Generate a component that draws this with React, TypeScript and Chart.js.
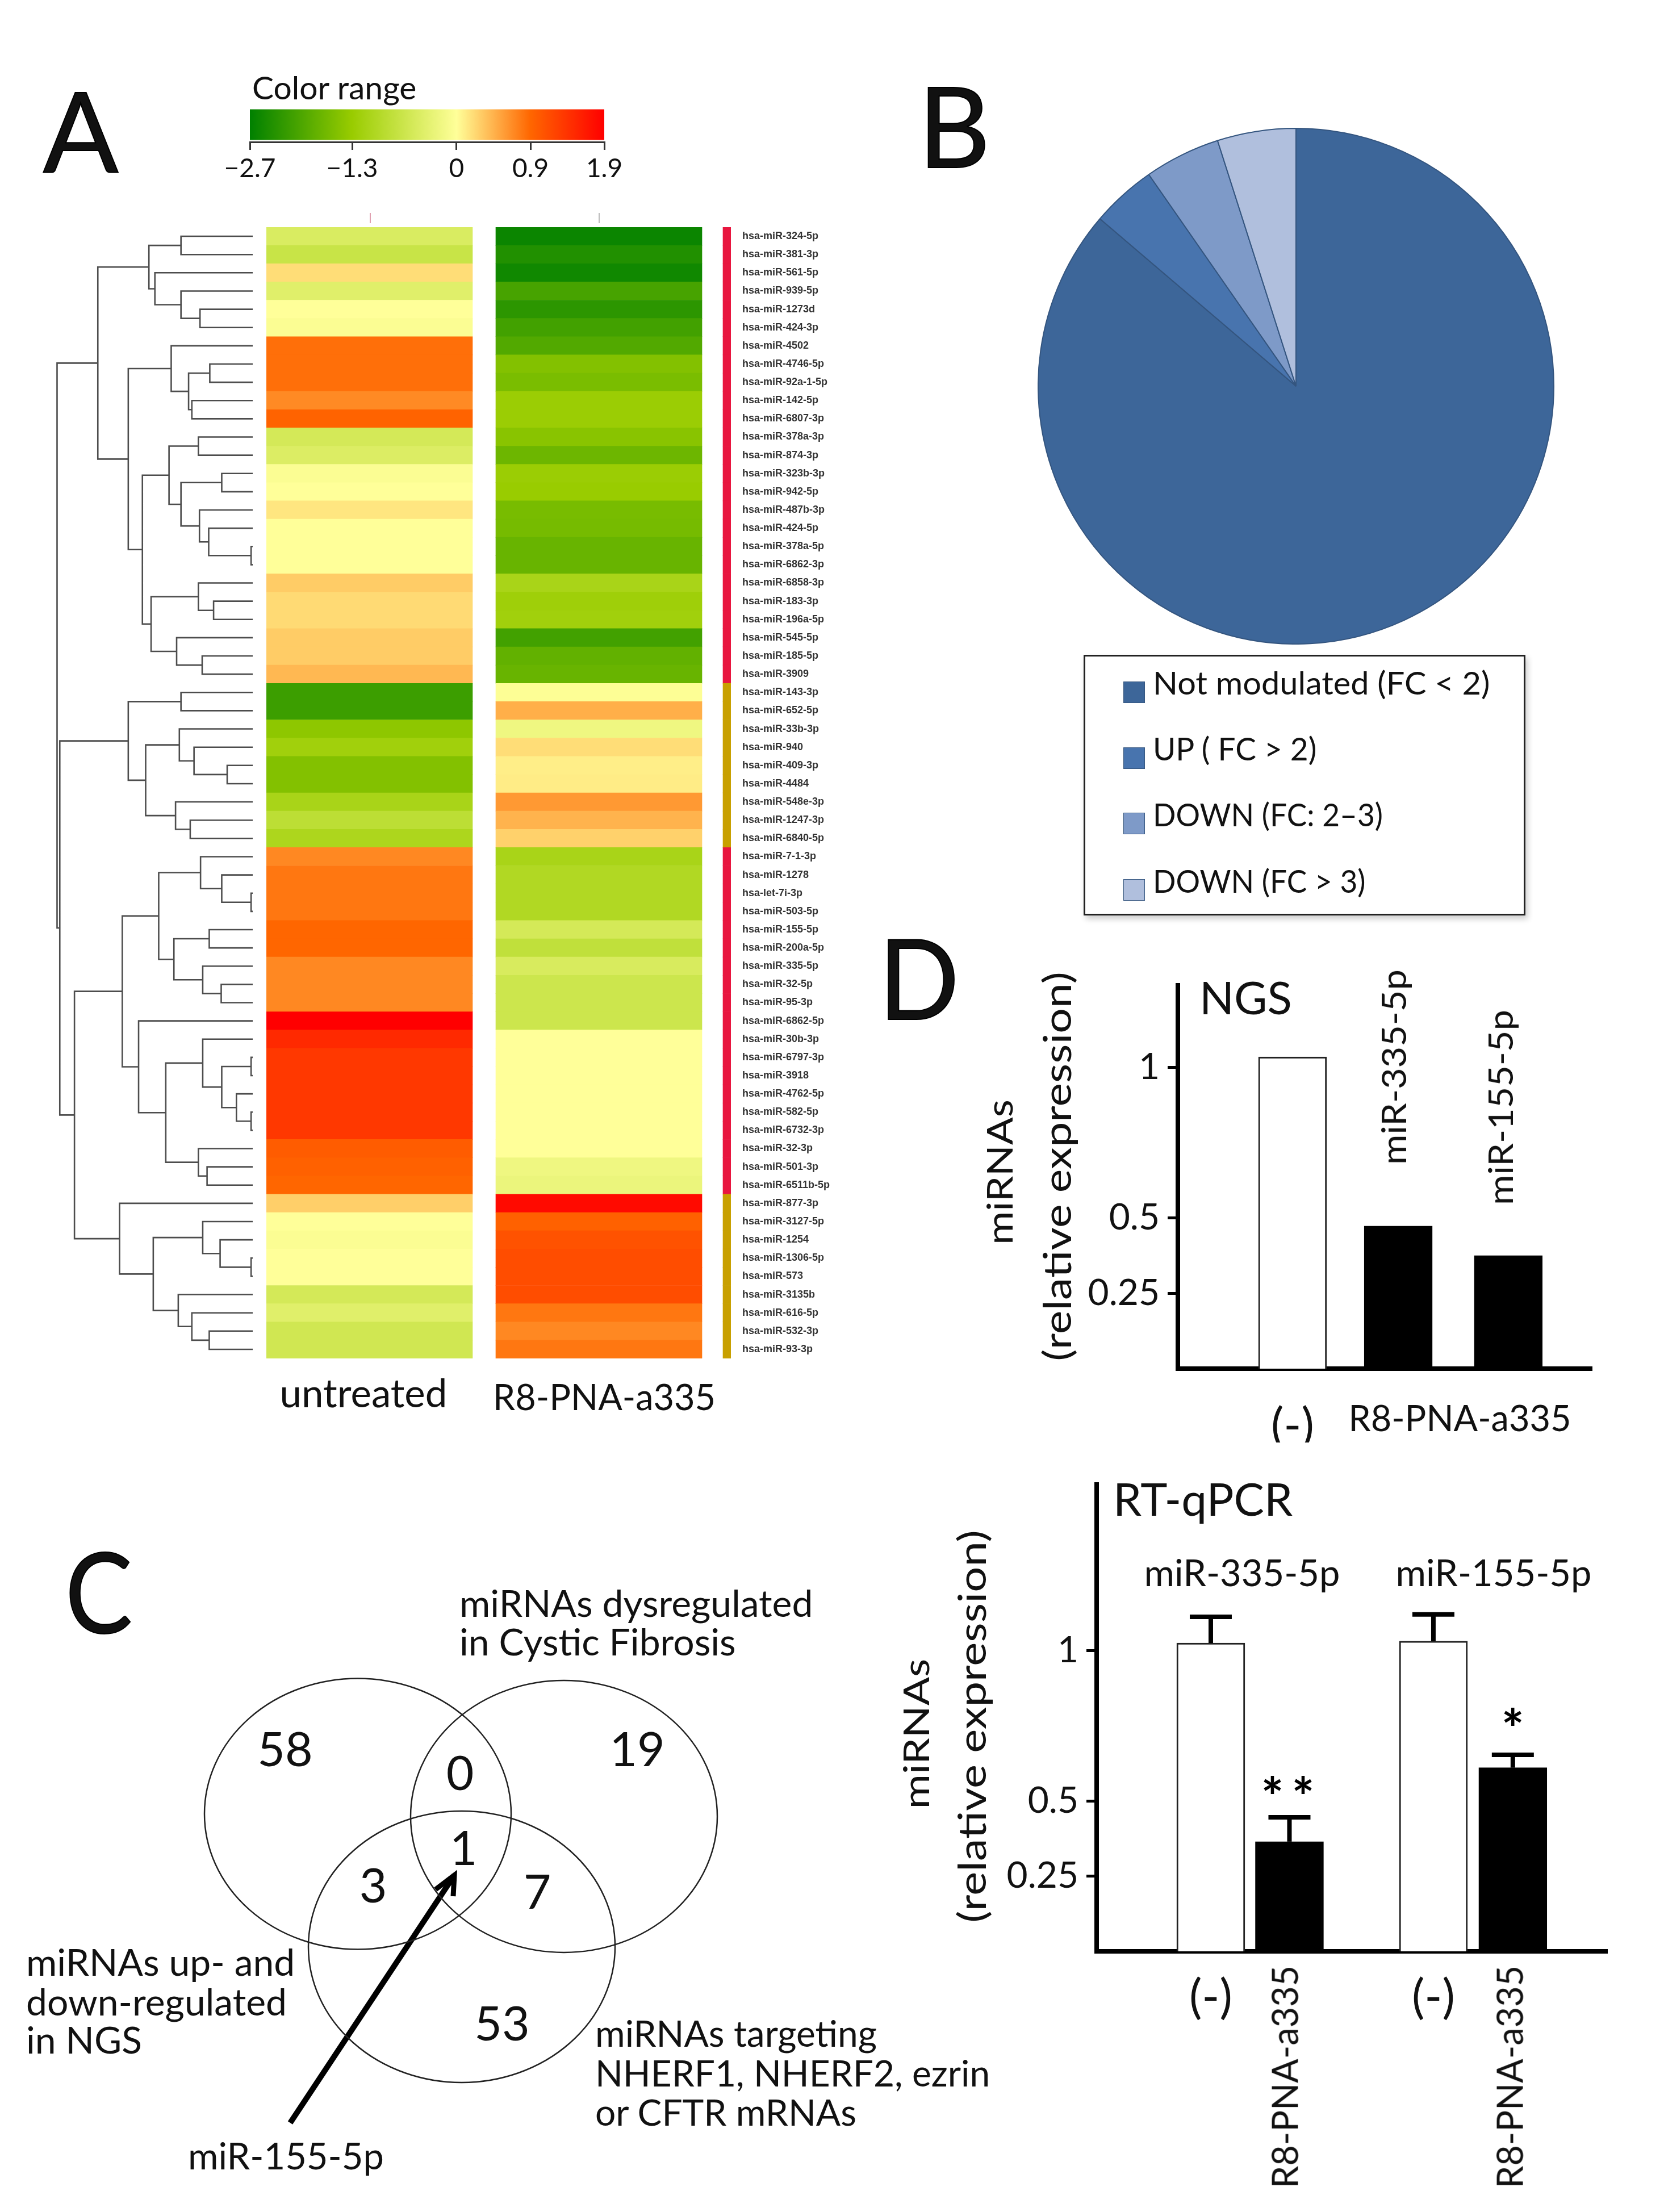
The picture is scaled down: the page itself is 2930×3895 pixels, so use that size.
import React, { useEffect, useRef } from "react";
import { Chart, registerables } from "chart.js";
Chart.register(...registerables);
Chart.defaults.font.family = "Lato";
Chart.defaults.color = "#111";

// ---------- Panel A data ----------
const mirnas = ["hsa-miR-324-5p","hsa-miR-381-3p","hsa-miR-561-5p","hsa-miR-939-5p","hsa-miR-1273d","hsa-miR-424-3p","hsa-miR-4502","hsa-miR-4746-5p","hsa-miR-92a-1-5p","hsa-miR-142-5p","hsa-miR-6807-3p","hsa-miR-378a-3p","hsa-miR-874-3p","hsa-miR-323b-3p","hsa-miR-942-5p","hsa-miR-487b-3p","hsa-miR-424-5p","hsa-miR-378a-5p","hsa-miR-6862-3p","hsa-miR-6858-3p","hsa-miR-183-3p","hsa-miR-196a-5p","hsa-miR-545-5p","hsa-miR-185-5p","hsa-miR-3909","hsa-miR-143-3p","hsa-miR-652-5p","hsa-miR-33b-3p","hsa-miR-940","hsa-miR-409-3p","hsa-miR-4484","hsa-miR-548e-3p","hsa-miR-1247-3p","hsa-miR-6840-5p","hsa-miR-7-1-3p","hsa-miR-1278","hsa-let-7i-3p","hsa-miR-503-5p","hsa-miR-155-5p","hsa-miR-200a-5p","hsa-miR-335-5p","hsa-miR-32-5p","hsa-miR-95-3p","hsa-miR-6862-5p","hsa-miR-30b-3p","hsa-miR-6797-3p","hsa-miR-3918","hsa-miR-4762-5p","hsa-miR-582-5p","hsa-miR-6732-3p","hsa-miR-32-3p","hsa-miR-501-3p","hsa-miR-6511b-5p","hsa-miR-877-3p","hsa-miR-3127-5p","hsa-miR-1254","hsa-miR-1306-5p","hsa-miR-573","hsa-miR-3135b","hsa-miR-616-5p","hsa-miR-532-3p","hsa-miR-93-3p"];
const untreated = [-0.48,-0.7,0.2,-0.4,0,-0.05,0.85,0.85,0.85,0.69,0.93,-0.55,-0.45,-0.05,0,0.15,0,0,0,0.3,0.22,0.22,0.3,0.3,0.42,-2.15,-2.15,-1.4,-1.2,-1.5,-1.5,-1.1,-0.85,-1.05,0.7,0.8,0.8,0.8,0.9,0.9,0.7,0.7,0.7,1.9,1.5,1.35,1.35,1.35,1.35,1.35,1.0,0.95,0.9,0.28,0,-0.05,0,0,-0.55,-0.4,-0.6,-0.6];
const treated = [-2.6,-2.4,-2.55,-2.05,-2.3,-2.1,-1.95,-1.5,-1.58,-1.27,-1.27,-1.45,-1.7,-1.27,-1.3,-1.6,-1.62,-1.75,-1.75,-1.1,-1.22,-1.2,-2.1,-1.8,-1.75,-0.03,0.47,-0.2,0.2,0.1,0.11,0.6,0.45,0.27,-1.1,-1.0,-1.0,-1.0,-0.55,-0.8,-0.5,-0.65,-0.65,-0.65,0,0,0,0,0,0,0,-0.2,-0.25,1.8,0.95,1.1,1.15,1.15,1.15,0.8,0.7,0.8];
const clusterUp = [25, 34, 53]; // first row of each block after the first; blocks alternate
const colorTickLabels = ["\u22122.7","\u22121.3","0","0.9","1.9"];
const colorTickPos = [-2.7,-1.373,-0.017,0.942,1.9];
// dendrogram nodes: [merge distance, child, child]; a number is a leaf row
const dendrogram: any = [360,
  [285,
    [191,[132,0,1],[180,2,[132,3,[97,4,5]]]],
    [229,
      [150,6,[118,[79,7,8],[112,9,10]]],
      [203,
        [154,[100,11,12],[132,[57,13,14],[98,15,[81,16,[3,17,18]]]]],
        [187,[100,19,[72,20,21]],[140,22,[93,23,24]]]]]],
  [355,
    [229,[132,25,26],[197,[135,27,[108,28,[47,29,30]]],[142,31,[115,32,33]]]],
    [328,
      [240,
        [173,[96,34,[57,35,[3,36,37]]],[145,[80,38,39],[92,40,[58,41,42]]]],
        [210,43,[160,[92,44,[57,[3,45,46],[30,47,[3,48,49]]]],[100,50,[84,51,52]]]]],
      [245,53,[183,[92,54,[60,55,[3,56,57]]],[137,58,[112,59,[80,60,61]]]]]]]];

// ---------- Panel B data ----------
const pieLabels = ["Not modulated (FC < 2)","UP ( FC > 2)","DOWN (FC: 2\u20133)","DOWN (FC > 3)"];
const pieValues = [86.25,4.08,4.75,4.92];
const pieColors = ["#3d6699","#4874ae","#7e9ac8","#b0bfdd"];

// ---------- Panel C data ----------
const vennCounts = ["58","19","0","1","3","7","53"];

// ---------- Panel D data ----------
const ngsValues = [1.034,0.473,0.375];
const qpcrValues = [1.026,0.365,1.032,0.611];
const qpcrErrTop = [1.113,0.446,1.121,0.654];
const qpcrStars = ["","**","","*"];
const yTicks = [0.25,0.5,1];

// ---------- styling / layout (not data) ----------
const STOPS: [number, number[]][] = [[-2.7,[0,128,0]],[-1.3,[153,204,0]],[0,[255,255,153]],[0.9,[255,102,0]],[1.9,[255,0,0]]];
function colorFor(v: number) {
  for (let i = 1; i < STOPS.length; i++) {
    if (v <= STOPS[i][0]) {
      const [a, ca] = STOPS[i - 1], [b, cb] = STOPS[i];
      const t = Math.max(0, (v - a) / (b - a));
      return `rgb(${ca.map((c, k) => Math.round(c + (cb[k] - c) * t)).join(",")})`;
    }
  }
  return "rgb(255,0,0)";
}
const isSecondBlock = (i: number) => clusterUp.filter((s) => i >= s).length % 2 === 1;

function dendroPath(node: any, out: any[]): { x: number; y: number } {
  if (typeof node === "number") return { x: 0, y: node };
  const [d, a, b] = node;
  const pa = dendroPath(a, out), pb = dendroPath(b, out);
  out.push({ x: pa.x, y: pa.y }, { x: d, y: pa.y }, { x: d, y: pb.y }, { x: pb.x, y: pb.y }, { x: null, y: null });
  return { x: d, y: (pa.y + pb.y) / 2 };
}

function ChartBox({ left, top, width, height, config }: any) {
  const ref = useRef<HTMLCanvasElement>(null);
  useEffect(() => {
    const c = new Chart(ref.current as any, config());
    return () => c.destroy();
  }, []);
  return <canvas ref={ref} width={width} height={height} style={{ position: "absolute", left, top, width, height }} />;
}

function T({ x, y, size, rot, center, children, sx, stroke }: any) {
  const tr = `${center || rot ? "translate(-50%,-50%)" : "translateY(-50%)"}${rot ? ` rotate(${rot}deg)` : ""}${sx ? ` scaleX(${sx})` : ""}`;
  return (
    <div style={{ position: "absolute", left: x, top: y, fontFamily: "Lato", fontSize: size, lineHeight: 1, whiteSpace: "nowrap", color: "#111", transform: tr, transformOrigin: center || rot ? "center" : "left center", WebkitTextStroke: stroke ? `${stroke}px #000` : undefined }}>
      {children}
    </div>
  );
}

const base = { responsive: false, animation: false, devicePixelRatio: 1, layout: { autoPadding: false, padding: 0 } };
const noLegend = { legend: { display: false }, tooltip: { enabled: false } };
const fitY = (w: number) => (s: any) => { s.width = w; s.paddingTop = 0; s.paddingBottom = 0; };
const fitX = (h: number) => (s: any) => { s.height = h; s.paddingLeft = 0; s.paddingRight = 0; };

const colorbarConfig = () => ({
  type: "bar",
  data: {
    labels: ["Color range"],
    datasets: [{
      data: [[-2.7, 1.9]], barPercentage: 0.885, categoryPercentage: 1, borderWidth: 0, inflateAmount: 0,
      backgroundColor: (ctx: any) => {
        const { chart } = ctx; const a = chart.chartArea; if (!a) return "#000";
        const g = chart.ctx.createLinearGradient(a.left, 0, a.right, 0);
        colorTickPos.forEach((p, i) => g.addColorStop((p + 2.7) / 4.6, `rgb(${STOPS[i][1].join(",")})`));
        return g;
      },
    }],
  },
  options: {
    ...base, indexAxis: "y", plugins: noLegend,
    layout: { autoPadding: false, padding: { left: 100, right: 100 } },
    scales: {
      y: { display: false },
      x: {
        min: -2.7, max: 1.9,
        afterBuildTicks: (s: any) => { s.ticks = colorTickPos.map((value) => ({ value })); },
        afterFit: fitX(80),
        border: { color: "#333", width: 3 },
        grid: { drawOnChartArea: false, drawTicks: true, tickLength: 14, color: "#333", lineWidth: 3 },
        ticks: { autoSkip: false, maxRotation: 0, padding: 6, font: { size: 46 }, color: "#111", callback: (_: any, i: number) => colorTickLabels[i] },
      },
    },
  },
});

const dendroConfig = () => {
  const pts: any[] = [];
  dendroPath(dendrogram, pts);
  return {
    type: "scatter",
    data: { datasets: [{ data: pts, showLine: true, pointRadius: 0, borderColor: "#4d4d4d", borderWidth: 2.6, spanGaps: false }] },
    options: {
      ...base, plugins: noLegend,
      scales: {
        x: { display: false, type: "linear", reverse: true, min: 0, max: 465 },
        y: { display: false, type: "linear", reverse: true, min: -0.5, max: 61.5 },
      },
    },
  };
};

const COL2 = 404 / 363, STRIP_A = 804 / 363, STRIP_B = 818 / 363;
const heatConfig = () => ({
  type: "bar",
  data: {
    labels: mirnas,
    datasets: [
      { label: "untreated", data: mirnas.map(() => [0, 1]), backgroundColor: untreated.map(colorFor) },
      { label: "R8-PNA-a335", data: mirnas.map(() => [COL2, COL2 + 1]), backgroundColor: treated.map(colorFor) },
      { label: "cluster", data: mirnas.map(() => [STRIP_A, STRIP_B]), backgroundColor: mirnas.map((_, i) => (isSecondBlock(i) ? "#c8a000" : "#e8163f")) },
    ],
  },
  options: {
    ...base, indexAxis: "y", plugins: noLegend,
    datasets: { bar: { barPercentage: 1, categoryPercentage: 1, grouped: false, borderWidth: 0 } },
    scales: {
      x: { display: false, min: 0, max: STRIP_B },
      y: {
        position: "right",
        afterFit: fitY(219),
        border: { display: false },
        grid: { display: false },
        ticks: { autoSkip: false, padding: 12, color: "#333", font: { family: "'Liberation Sans'", weight: "bold", size: 18 } },
      },
    },
  },
});

const pieConfig = () => ({
  type: "pie",
  data: { labels: pieLabels, datasets: [{ data: pieValues, backgroundColor: pieColors, borderColor: "#34557f", borderWidth: 2 }] },
  options: { ...base, plugins: noLegend },
});

const vennPlugin = {
  id: "venn",
  afterDatasetsDraw(chart: any) {
    const { ctx, scales: { x, y } } = chart;
    ctx.save();
    ctx.strokeStyle = "#222"; ctx.lineWidth = 2.5;
    [[6.30,31.94,2.70,2.385],[9.93,31.985,2.70,2.395],[8.13,34.28,2.70,2.39]].forEach(([cx,cy,rx,ry]) => {
      ctx.beginPath();
      ctx.ellipse(x.getPixelForValue(cx), y.getPixelForValue(cy), x.getPixelForValue(cx + rx) - x.getPixelForValue(cx), y.getPixelForValue(cy + ry) - y.getPixelForValue(cy), 0, 0, Math.PI * 2);
      ctx.stroke();
    });
    ctx.fillStyle = "#111"; ctx.font = "84px Lato"; ctx.textAlign = "center"; ctx.textBaseline = "middle";
    chart.getDatasetMeta(0).data.forEach((p: any, i: number) => ctx.fillText(vennCounts[i], p.x, p.y));
    ctx.restore();
  },
};
const vennConfig = () => ({
  type: "scatter",
  data: {
    datasets: [
      { data: [[5.02,30.83],[11.22,30.83],[8.10,31.25],[8.16,32.57],[6.57,33.23],[9.46,33.34],[8.84,35.66]].map(([x, y]) => ({ x, y })), pointRadius: 0 },
      { data: [{ x: 5.11, y: 37.38 }, { x: 8.0, y: 33.02 }], showLine: true, pointRadius: 0, borderColor: "#000", borderWidth: 10 },
      { data: [{ x: 7.67, y: 33.27 }, { x: 8.0, y: 33.02 }, { x: 7.98, y: 33.39 }], showLine: true, pointRadius: 0, borderColor: "#000", borderWidth: 9 },
    ],
  },
  plugins: [vennPlugin],
  options: {
    ...base, plugins: noLegend,
    scales: {
      x: { display: false, type: "linear", min: 0, max: 14 },
      y: { display: false, type: "linear", reverse: true, min: 29, max: 38.5 },
    },
  },
});

function axisY(max: number, w: number) {
  return {
    min: 0, max,
    afterBuildTicks: (s: any) => { s.ticks = yTicks.map((value) => ({ value })); },
    afterFit: fitY(w),
    border: { color: "#000", width: 8 },
    grid: { drawOnChartArea: false, drawTicks: true, tickLength: 18, tickWidth: 5, tickColor: "#000" },
    ticks: { padding: 14, color: "#111", font: { size: 64 }, callback: (v: number) => String(v) },
  };
}
function axisX(min: number, max: number, pos: number[], labels: string[], h: number, pad: number) {
  return {
    type: "linear", min, max, offset: false,
    afterBuildTicks: (s: any) => { s.ticks = pos.map((value) => ({ value })); },
    afterFit: fitX(h),
    border: { color: "#000", width: 8 },
    grid: { display: false, offset: false },
    ticks: {
      autoSkip: false, maxRotation: 0, minRotation: 0, padding: pad, color: "#111",
      font: (ctx: any) => ({ size: labels[ctx.index] === "(-)" ? 84 : 63 }),
      callback: (_: any, i: number) => labels[i],
    },
  };
}

const ngsConfig = () => ({
  type: "bar",
  data: {
    datasets: [{
      data: [1, 1.98, 3].map((x, i) => ({ x, y: ngsValues[i] })),
      backgroundColor: ["#fff", "#000", "#000"], borderColor: ["#222", "#000", "#000"], borderWidth: 3, barThickness: 120,
    }],
  },
  options: {
    ...base, plugins: noLegend,
    scales: { x: axisX(-0.063, 3.78, [1, 2.55], ["(-)", "R8-PNA-a335"], 130, 44), y: axisY(1.279, 174) },
  },
});

const qpcrPlugin = {
  id: "qpcrErr",
  afterDatasetsDraw(chart: any) {
    const { ctx, scales: { y } } = chart;
    const pts = chart.getDatasetMeta(0).data;
    ctx.save();
    ctx.fillStyle = "#000"; ctx.strokeStyle = "#000"; ctx.lineWidth = 8;
    pts.forEach((p: any, i: number) => {
      const top = y.getPixelForValue(qpcrErrTop[i]);
      ctx.beginPath(); ctx.moveTo(p.x, p.y); ctx.lineTo(p.x, top); ctx.stroke();
      ctx.beginPath(); ctx.moveTo(p.x - 37, top); ctx.lineTo(p.x + 37, top); ctx.stroke();
      if (qpcrStars[i]) {
        ctx.font = "bold 94px Lato"; ctx.textAlign = "center"; ctx.textBaseline = "alphabetic";
        (ctx as any).letterSpacing = qpcrStars[i].length > 1 ? "14px" : "0px";
        ctx.fillText(qpcrStars[i], p.x + (qpcrStars[i].length > 1 ? 4 : 0), top - (qpcrStars[i].length > 1 ? 2 : 12));
      }
    });
    ctx.restore();
  },
};
const qpcrConfig = () => ({
  type: "bar",
  data: {
    datasets: [{
      data: [1, 2, 3.83, 4.84].map((x, i) => ({ x, y: qpcrValues[i] })),
      backgroundColor: ["#fff", "#000", "#fff", "#000"], borderColor: ["#222", "#000", "#222", "#000"], borderWidth: 3, barThickness: 120,
    }],
  },
  plugins: [qpcrPlugin],
  options: {
    ...base, plugins: noLegend,
    scales: { x: axisX(-0.451, 6.047, [1, 3.83], ["(-)", "(-)"], 130, 24), y: axisY(1.561, 174) },
  },
});

export default function App() {
  useEffect(() => { document.body.style.margin = "0"; document.body.style.background = "#fff"; }, []);
  const sw = [1200, 1316, 1431, 1548];
  const ty = [1202, 1318, 1434, 1551];
  const legendSx = [1.03, 0.98, 0.95, 0.95];
  return (
    <div style={{ position: "absolute", left: 0, top: 0, width: 2930, height: 3895, overflow: "hidden", background: "#fff" }}>
      {/* Panel A */}
      <T x={142} y={228} size={196} center stroke={2}>A</T>
      <T x={444} y={153} size={57}>Color range</T>
      <ChartBox left={340} top={189} width={824} height={141} config={colorbarConfig} />
      <div style={{ position: "absolute", left: 651, top: 375, width: 2, height: 18, background: "#e0a0b0" }} />
      <div style={{ position: "absolute", left: 1054, top: 375, width: 2, height: 18, background: "#bbb" }} />
      <ChartBox left={0} top={400} width={445} height={1992} config={dendroConfig} />
      <ChartBox left={469} top={400} width={1037} height={1992} config={heatConfig} />
      <T x={640} y={2451} size={69} center>untreated</T>
      <T x={1064} y={2458} size={63} center>R8-PNA-a335</T>

      {/* Panel B */}
      <T x={1680} y={220} size={196} center stroke={2}>B</T>
      <ChartBox left={1827} top={225} width={910} height={910} config={pieConfig} />
      <div style={{ position: "absolute", left: 1908, top: 1153, width: 778, height: 459, border: "3px solid #222", boxSizing: "border-box", background: "#fff", boxShadow: "4px 6px 10px rgba(0,0,0,0.2)" }} />
      {pieLabels.map((l, i) => (
        <React.Fragment key={l}>
          <div style={{ position: "absolute", left: 1978, top: sw[i], width: 38, height: 38, background: pieColors[i], border: "1px solid #34557f", boxSizing: "border-box" }} />
          <T x={2030} y={ty[i]} size={56} sx={legendSx[i]}>{l}</T>
        </React.Fragment>
      ))}

      {/* Panel C */}
      <T x={174} y={2800} size={196} center stroke={2} sx={0.9}>C</T>
      <ChartBox left={0} top={2900} width={1400} height={950} config={vennConfig} />
      <T x={809} y={2822} size={66}>miRNAs dysregulated</T>
      <T x={809} y={2890} size={66}>in Cystic Fibrosis</T>
      <T x={46} y={3454} size={66}>miRNAs up- and</T>
      <T x={46} y={3524} size={66}>down-regulated</T>
      <T x={46} y={3591} size={66}>in NGS</T>
      <T x={1048} y={3580} size={64}>miRNAs targeting</T>
      <T x={1048} y={3650} size={64}>NHERF1, NHERF2, ezrin</T>
      <T x={1048} y={3719} size={64}>or CFTR mRNAs</T>
      <T x={331} y={3795} size={65}>miR-155-5p</T>

      {/* Panel D */}
      <T x={1618} y={1720} size={196} center stroke={2} sx={0.95}>D</T>
      <ChartBox left={1900} top={1731} width={904} height={809} config={ngsConfig} />
      <T x={2112} y={1755} size={80}>NGS</T>
      <T x={2453} y={1879} size={60} rot={-90} sx={1.08}>miR-335-5p</T>
      <T x={2641} y={1950} size={60} rot={-90} sx={1.08}>miR-155-5p</T>
      <T x={1759} y={2064} size={62} rot={-90} sx={1.16}>miRNAs</T>
      <T x={1860} y={2054} size={68} rot={-90} sx={1.16}>(relative expression)</T>

      <ChartBox left={1757} top={2610} width={1074} height={956} config={qpcrConfig} />
      <T x={1960} y={2638} size={80}>RT-qPCR</T>
      <T x={2187} y={2768} size={65} center>miR-335-5p</T>
      <T x={2630} y={2768} size={65} center>miR-155-5p</T>
      <T x={1612} y={3053} size={62} rot={-90} sx={1.2}>miRNAs</T>
      <T x={1710} y={3040} size={68} rot={-90} sx={1.17}>(relative expression)</T>
      <T x={2261} y={3657} size={63} rot={-90}>R8-PNA-a335</T>
      <T x={2657} y={3657} size={63} rot={-90}>R8-PNA-a335</T>
    </div>
  );
}
